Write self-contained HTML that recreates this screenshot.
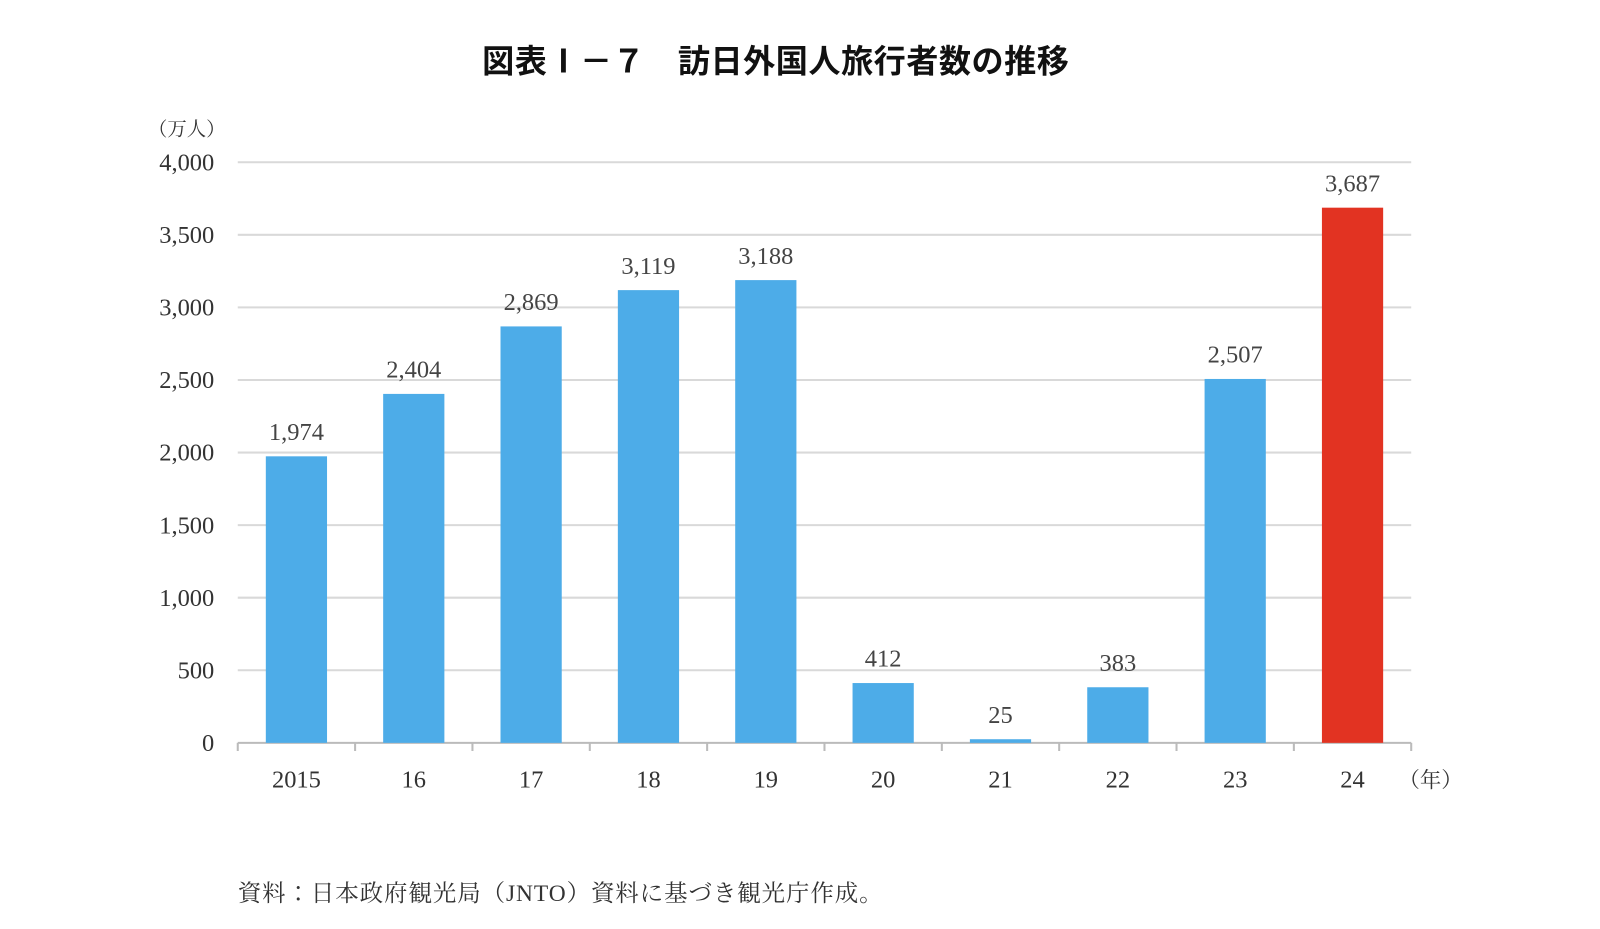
<!DOCTYPE html>
<html><head><meta charset="utf-8"><style>
html,body{margin:0;padding:0;background:#fff;}
svg text{font-family:"Liberation Serif","Noto Serif CJK SC",serif;}
</style></head><body>
<svg id="chart" width="1600" height="924" viewBox="0 0 1600 924" xmlns="http://www.w3.org/2000/svg">
<g transform="scale(1.0204)">
<text x="760" y="71" text-anchor="middle" font-size="31.5" font-weight="bold" style="font-family:'Liberation Sans','Noto Sans CJK JP',sans-serif" fill="#111" textLength="575" lengthAdjust="spacing">図表Ⅰ－７　訪日外国人旅行者数の推移</text>
<text x="183" y="133" text-anchor="middle" font-size="19" fill="#333" style="font-family:'Liberation Serif','Noto Serif CJK SC',serif">（万人）</text>
<text x="1402" y="772" text-anchor="middle" font-size="21" fill="#333">（年）</text>
<text x="233" y="883" font-size="23" fill="#333" textLength="632" lengthAdjust="spacing" style="font-family:'Liberation Serif','Noto Serif CJK JP',serif">資料：日本政府観光局（JNTO）資料に基づき観光庁作成。</text>
<g id="grid"></g><g id="bars"></g>
</g>
</svg>
<script>
const categories=["2015","16","17","18","19","20","21","22","23","24"];
const values=[1974,2404,2869,3119,3188,412,25,383,2507,3687];
const valueLabels=["1,974","2,404","2,869","3,119","3,188","412","25","383","2,507","3,687"];
const yTicks=[0,500,1000,1500,2000,2500,3000,3500,4000];
const yTickLabels=["0","500","1,000","1,500","2,000","2,500","3,000","3,500","4,000"];
const NS="http://www.w3.org/2000/svg";
const x0=233,x1=1383,y0=728,y1=159,maxV=4000;
const band=(x1-x0)/categories.length;
const yS=v=>y0-(v/maxV)*(y0-y1);
const xC=i=>x0+band*(i+0.5);
const grid=document.getElementById('grid'),bars=document.getElementById('bars');
function mk(t,a,p){const e=document.createElementNS(NS,t);for(const k in a)e.setAttribute(k,a[k]);p.appendChild(e);return e;}
yTicks.forEach((v,i)=>{
 const l=mk('line',{x1:x0,x2:x1,y1:yS(v),y2:yS(v),stroke:v===0?'#bbb':'#d9d9d9','stroke-width':2},grid);
 
 
 const t=mk('text',{x:210,y:yS(v)+8,'text-anchor':'end','font-size':24,fill:'#333'},grid);
 t.textContent=yTickLabels[i];
 
 
});
for(let i=0;i<=categories.length;i++){
 const tk=mk('line',{x1:x0+band*i,x2:x0+band*i,y1:y0,y2:y0+8,stroke:'#bbb','stroke-width':2},grid);
 
 
}
categories.forEach((c,i)=>{
 const bw=60,v=values[i];
 const r=mk('rect',{x:xC(i)-bw/2,y:yS(v),width:bw,height:y0-yS(v),fill:i===categories.length-1?'#E23322':'#4DACE8'},bars);
 
 
 const vl=mk('text',{x:xC(i),y:yS(v)-16,'text-anchor':'middle','font-size':24,fill:'#444'},bars);
 vl.textContent=valueLabels[i];
 
 
 const xl=mk('text',{x:xC(i),y:772,'text-anchor':'middle','font-size':24,fill:'#333'},bars);
 xl.textContent=c;
 
 
});
</script>
</body></html>
